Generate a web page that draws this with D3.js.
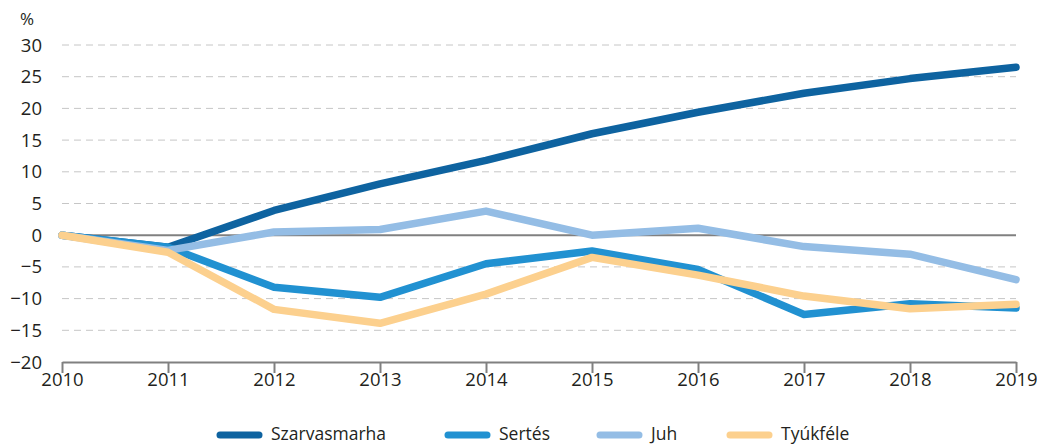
<!DOCTYPE html>
<html>
<head>
<meta charset="utf-8">
<script src="https://cdn.jsdelivr.net/npm/d3@7"></script>
<style>
body { margin: 0; background: #fff; }
svg text { font-family: "Open Sans", sans-serif; fill: #231f20; }
</style>
</head>
<body>
<svg id="chart" width="1037" height="444"></svg>
<script>
const years = [2010, 2011, 2012, 2013, 2014, 2015, 2016, 2017, 2018, 2019];
const yTicks = [-20, -15, -10, -5, 0, 5, 10, 15, 20, 25, 30];
const seriesNames = ["Szarvasmarha", "Sertés", "Juh", "Tyúkféle"];
const szarvasmarha = [0, -1.9, 3.9, 8.1, 11.8, 16.0, 19.4, 22.4, 24.7, 26.5];
const sertes = [0, -1.9, -8.2, -9.8, -4.5, -2.5, -5.4, -12.5, -10.8, -11.5];
const juh = [0, -2.4, 0.5, 0.9, 3.8, 0.0, 1.1, -1.8, -3.0, -7.0];
const tyukfele = [0, -2.7, -11.7, -13.9, -9.3, -3.5, -6.3, -9.6, -11.6, -10.9];
const colors = ["#0e63a0", "#2191d1", "#94bde5", "#fcd08e"];

const series = [szarvasmarha, sertes, juh, tyukfele];

const svg = d3.select("#chart");
const x = d3.scaleLinear().domain([2010, 2019]).range([62, 1016]);
const y = d3.scaleLinear().domain([-20, 30]).range([362, 45]);

// grid
svg.append("g").selectAll("line")
  .data(yTicks.filter(d => d !== 0 && d !== -20))
  .join("line")
  .attr("x1", x(2010)).attr("x2", x(2019))
  .attr("y1", d => y(d)).attr("y2", d => y(d))
  .attr("stroke", "#c6c6c6").attr("stroke-width", 1)
  .attr("stroke-dasharray", "7,5");

// zero line
svg.append("line")
  .attr("x1", x(2010)).attr("x2", x(2019))
  .attr("y1", y(0)).attr("y2", y(0))
  .attr("stroke", "#808080").attr("stroke-width", 2);

// y labels
svg.append("g").selectAll("text")
  .data(yTicks).join("text")
  .attr("x", 42).attr("y", d => y(d) + 6.5)
  .attr("text-anchor", "end")
  .attr("font-size", "18.5px")
  .text(d => d < 0 ? "\u2212" + Math.abs(d) : d);
svg.append("text").attr("x", 20).attr("y", 25).attr("font-size", "17px").text("%");

// x axis
const xAxis = d3.axisBottom(x).tickValues(years).tickFormat(d3.format("d")).tickSize(11).tickSizeOuter(0);
const gx = svg.append("g").attr("transform", `translate(0,${y(-20)})`).call(xAxis);
gx.select(".domain").attr("stroke", "#808080").attr("stroke-width", 2);
gx.selectAll(".tick line").attr("stroke", "#808080").attr("stroke-width", 2);
gx.selectAll(".tick text").attr("font-size", "18.5px").attr("font-family", "Open Sans, sans-serif").attr("fill", "#231f20").attr("dy", "0.55em").attr("y", 14);

// lines
const line = d3.line().x((d, i) => x(years[i])).y(d => y(d));
svg.append("g").selectAll("path")
  .data(series).join("path")
  .attr("d", d => line(d))
  .attr("fill", "none")
  .attr("stroke", (d, i) => colors[i])
  .attr("stroke-width", 7.5)
  .attr("stroke-linecap", "round")
  .attr("stroke-linejoin", "round");

// legend
const legendX = [217, 445, 597, 727];
const lg = svg.append("g").selectAll("g").data(seriesNames).join("g")
  .attr("transform", (d, i) => `translate(${legendX[i]},435)`);
lg.append("line").attr("x1", 3).attr("x2", 42).attr("y1", 0).attr("y2", 0)
  .attr("stroke", (d, i) => colors[i]).attr("stroke-width", 7).attr("stroke-linecap", "round");
lg.append("text").attr("x", 54).attr("y", 4.5).attr("font-size", "17.5px").text(d => d);
</script>
</body>
</html>
